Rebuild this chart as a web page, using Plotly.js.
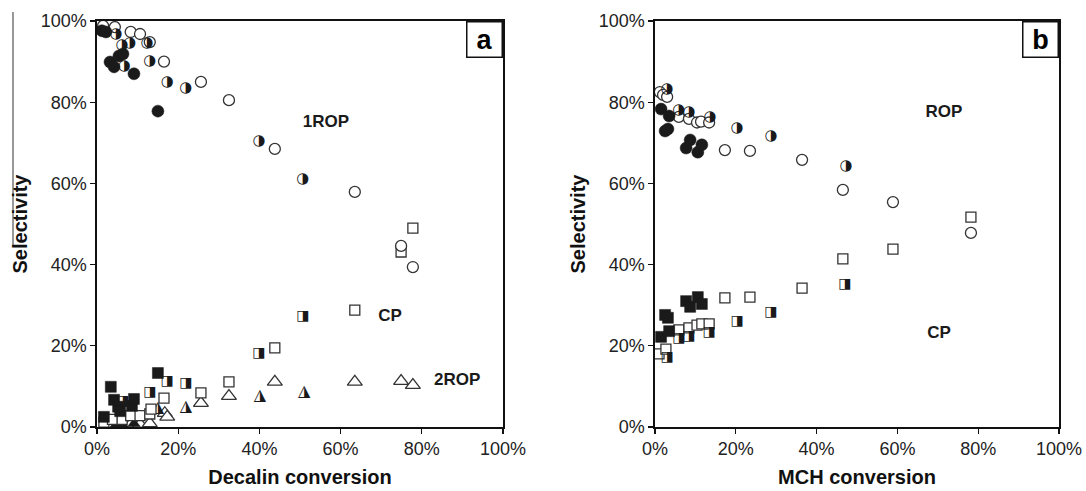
<!DOCTYPE html>
<html>
<head>
<meta charset="utf-8">
<script src="https://cdn.plot.ly/plotly-3.0.1.min.js"></script>
<style>
  html, body { margin: 0; padding: 0; background: #fff; }
  #chart { width: 1086px; height: 491px; }
</style>
</head>
<body>
<div id="chart"></div>
<script>
// Panel a: decalin ring opening — selectivity (%) vs conversion (%)
const aRopFilledX = [1.2, 2.2, 3.2, 4.2, 5.4, 6.4, 9.1, 15.0];
const aRopFilledY = [97.6, 97.3, 89.9, 88.7, 91.4, 91.9, 87.0, 77.8];
const aRopHalfX = [4.7, 6.2, 6.7, 8.1, 12.3, 13.0, 17.3, 21.9, 39.9, 50.7];
const aRopHalfY = [96.8, 94.1, 88.9, 94.6, 94.6, 90.0, 85.0, 83.5, 70.4, 61.1];
const aRopOpenX = [1.5, 4.4, 8.3, 10.6, 13.0, 16.5, 25.6, 32.5, 43.8, 63.5, 74.9, 77.8];
const aRopOpenY = [98.8, 98.5, 97.3, 96.8, 94.8, 90.0, 85.0, 80.5, 68.5, 57.9, 44.6, 39.4];

const aCpFilledX = [1.7, 3.4, 4.2, 5.2, 5.7, 8.6, 9.1, 15.0];
const aCpFilledY = [2.5, 9.9, 6.7, 5.0, 3.9, 5.2, 6.9, 13.3];
const aCpHalfX = [6.4, 13.0, 17.3, 21.9, 39.9, 50.7];
const aCpHalfY = [6.2, 8.4, 11.1, 10.6, 18.0, 27.3];
const aCpOpenX = [1.7, 3.8, 6.2, 8.3, 10.6, 13.0, 13.3, 16.5, 25.6, 32.5, 43.8, 63.5, 74.9, 77.8];
const aCpOpenY = [1.2, 1.9, 1.9, 2.8, 2.8, 3.2, 4.4, 7.1, 8.4, 11.1, 19.5, 28.8, 43.1, 49.0];

const a2RopFilledX = [4.7, 6.4, 9.1];
const a2RopFilledY = [0.6, 0.4, 0.8];
const a2RopHalfX = [15.0, 21.9, 40.1, 51.0];
const a2RopHalfY = [4.7, 4.9, 7.6, 8.6];
const a2RopOpenX = [8.3, 10.6, 13.0, 16.7, 17.3, 25.6, 32.5, 43.8, 63.5, 74.9, 77.8];
const a2RopOpenY = [0.7, 0.7, 0.9, 3.4, 2.5, 5.9, 7.6, 11.1, 11.1, 11.3, 10.3];

// Panel b: methylcyclohexane ring opening
const bRopFilledX = [1.5, 2.5, 3.2, 3.5, 7.7, 8.7, 10.6, 11.6];
const bRopFilledY = [78.3, 72.9, 73.4, 76.6, 68.7, 70.7, 67.7, 69.5];
const bRopHalfX = [3.0, 5.9, 8.4, 13.6, 20.3, 28.7, 47.3];
const bRopHalfY = [83.3, 78.1, 77.6, 76.4, 73.6, 71.7, 64.3];
const bRopOpenX = [1.2, 2.0, 3.0, 5.9, 8.4, 10.4, 11.4, 13.4, 17.3, 23.5, 36.4, 46.5, 58.9, 78.2];
const bRopOpenY = [82.5, 81.8, 81.3, 76.4, 75.9, 75.0, 75.2, 75.0, 68.2, 68.0, 65.8, 58.4, 55.4, 47.8];

const bCpFilledX = [1.5, 2.5, 3.2, 3.5, 7.7, 8.7, 10.6, 11.6];
const bCpFilledY = [22.2, 27.6, 26.9, 23.6, 31.0, 29.6, 32.0, 30.3];
const bCpHalfX = [3.0, 5.9, 8.4, 13.4, 20.3, 28.7, 47.0];
const bCpHalfY = [17.2, 21.9, 22.4, 23.4, 25.9, 28.1, 35.2];
const bCpOpenX = [1.0, 2.7, 5.9, 8.4, 10.4, 11.6, 13.4, 17.3, 23.5, 36.4, 46.5, 58.9, 78.2];
const bCpOpenY = [18.0, 19.2, 23.9, 24.4, 25.1, 25.4, 25.4, 31.8, 32.0, 34.2, 41.4, 43.8, 51.7];

// Axis ticks
const tickVals = [0, 20, 40, 60, 80, 100];
const tickText = ['0%', '20%', '40%', '60%', '80%', '100%'];

// Product labels placed inside each panel
const productLabelsA = ['1ROP', 'CP', '2ROP'];
const productLabelsAX = [56.4, 72.2, 88.7];
const productLabelsAY = [74.9, 27.1, 11.3];
const productLabelsB = ['ROP', 'CP'];
const productLabelsBX = [71.5, 70.3];
const productLabelsBY = [77.4, 22.9];

const INK = '#1a1a1a';

function filled(x, y, symbol, size, xa, ya) {
  return { type: 'scatter', mode: 'markers', x, y, xaxis: xa, yaxis: ya,
    marker: { symbol, size, color: INK, line: { color: INK, width: 0.5 } },
    hoverinfo: 'x+y', showlegend: false };
}
function open(x, y, symbol, size, xa, ya) {
  return { type: 'scatter', mode: 'markers', x, y, xaxis: xa, yaxis: ya,
    marker: { symbol, size, color: '#ffffff', line: { color: '#333333', width: 1.3 } },
    hoverinfo: 'x+y', showlegend: false };
}
// half-black markers are drawn as geometric-shape glyphs
function half(x, y, glyph, size, xa, ya) {
  return { type: 'scatter', mode: 'text', x, y, xaxis: xa, yaxis: ya,
    text: x.map(() => glyph), textposition: 'middle center',
    textfont: { family: 'DejaVu Sans', size, color: INK },
    hoverinfo: 'x+y', showlegend: false };
}

const CIRC = '\u25D1', SQR = '\u25E8', TRI = '\u25EE';

const traces = [
  // panel a
  open(a2RopOpenX, a2RopOpenY, 'triangle-up', 13, 'x', 'y'),
  filled(a2RopFilledX, a2RopFilledY, 'triangle-up', 11, 'x', 'y'),
  half(a2RopHalfX, a2RopHalfY, TRI, 16, 'x', 'y'),
  open(aCpOpenX, aCpOpenY, 'square', 10, 'x', 'y'),
  filled(aCpFilledX, aCpFilledY, 'square', 11, 'x', 'y'),
  half(aCpHalfX, aCpHalfY, SQR, 14, 'x', 'y'),
  open(aRopOpenX, aRopOpenY, 'circle', 11, 'x', 'y'),
  filled(aRopFilledX, aRopFilledY, 'circle', 12, 'x', 'y'),
  half(aRopHalfX, aRopHalfY, CIRC, 15, 'x', 'y'),
  // panel b
  open(bCpOpenX, bCpOpenY, 'square', 10, 'x2', 'y2'),
  filled(bCpFilledX, bCpFilledY, 'square', 11, 'x2', 'y2'),
  half(bCpHalfX, bCpHalfY, SQR, 14, 'x2', 'y2'),
  open(bRopOpenX, bRopOpenY, 'circle', 11, 'x2', 'y2'),
  filled(bRopFilledX, bRopFilledY, 'circle', 12, 'x2', 'y2'),
  half(bRopHalfX, bRopHalfY, CIRC, 15, 'x2', 'y2'),
  // product labels
  { type: 'scatter', mode: 'text', x: productLabelsAX, y: productLabelsAY, text: productLabelsA,
    xaxis: 'x', yaxis: 'y', textposition: 'middle center',
    textfont: { family: 'Liberation Sans, Arial, sans-serif', size: 17, color: INK, weight: 'bold' },
    hoverinfo: 'skip', showlegend: false },
  { type: 'scatter', mode: 'text', x: productLabelsBX, y: productLabelsBY, text: productLabelsB,
    xaxis: 'x2', yaxis: 'y2', textposition: 'middle center',
    textfont: { family: 'Liberation Sans, Arial, sans-serif', size: 17, color: INK, weight: 'bold' },
    hoverinfo: 'skip', showlegend: false }
];

const tickFont = { family: 'Liberation Sans, Arial, sans-serif', size: 18, color: '#222' };
const titleFont = { family: 'Liberation Sans, Arial, sans-serif', size: 20, color: '#111', weight: 'bold' };

function axis(domain, anchor, titleText, standoff) {
  return {
    domain, anchor, range: [0, 100], tickvals: tickVals, ticktext: tickText,
    showgrid: false, zeroline: false, showline: true, linecolor: '#111', linewidth: 1.6,
    mirror: true, ticks: 'outside', ticklen: 5, tickwidth: 1.3, tickcolor: '#111',
    tickfont: tickFont, fixedrange: true,
    title: { text: titleText, font: titleFont, standoff }
  };
}

const layout = {
  width: 1086, height: 491,
  margin: { l: 0, r: 0, t: 0, b: 0 },
  paper_bgcolor: '#ffffff', plot_bgcolor: '#ffffff',
  xaxis: axis([97 / 1086, 503 / 1086], 'y', 'Decalin conversion', 12),
  yaxis: axis([1 - 427 / 491, 1 - 21 / 491], 'x', 'Selectivity', 8),
  xaxis2: axis([655 / 1086, 1059 / 1086], 'y2', 'MCH conversion', 12),
  yaxis2: axis([1 - 427 / 491, 1 - 21 / 491], 'x2', 'Selectivity', 8),
  annotations: [
    { xref: 'x domain', yref: 'y domain', x: 1, y: 1, xanchor: 'right', yanchor: 'top',
      text: '<b>a</b>', showarrow: false, bordercolor: '#111', borderwidth: 1.5, borderpad: 0,
      width: 34, height: 34, bgcolor: '#fff',
      font: { family: 'Liberation Sans, Arial, sans-serif', size: 27, color: '#000' } },
    { xref: 'x2 domain', yref: 'y2 domain', x: 1, y: 1, xanchor: 'right', yanchor: 'top',
      text: '<b>b</b>', showarrow: false, bordercolor: '#111', borderwidth: 1.5, borderpad: 0,
      width: 34, height: 34, bgcolor: '#fff',
      font: { family: 'Liberation Sans, Arial, sans-serif', size: 27, color: '#000' } }
  ],
  shapes: [
    // thin rule at the far left edge
    { type: 'line', xref: 'paper', yref: 'paper', x0: 13 / 1086, x1: 13 / 1086,
      y0: 1 - 12 / 491, y1: 1 - 245 / 491, line: { color: '#333', width: 1 } }
  ]
};

Plotly.newPlot('chart', traces, layout, { staticPlot: true, displayModeBar: false });
</script>
</body>
</html>
